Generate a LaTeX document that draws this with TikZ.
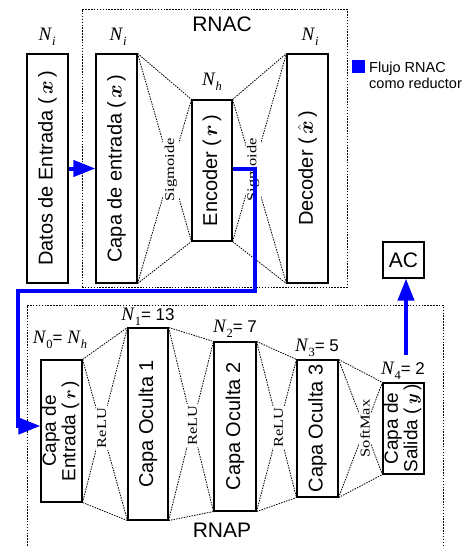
\documentclass[tikz,border=0pt]{standalone}
\usepackage{amsmath,bm}
\usepackage{fontspec}
\setmainfont{Liberation Sans}
\newfontfamily\lserif{Liberation Serif}
\newfontfamily\actfont{Liberation Serif}[FakeStretch=1.22]
\usetikzlibrary{arrows.meta}
\newcommand{\NN}[1]{{\lserif\fontsize{19}{19}\selectfont\itshape N\kern0.8pt\raisebox{-5pt}{\fontsize{12.5}{12.5}\selectfont #1}}}
\newcommand{\eqn}[1]{{\fontsize{17}{17}\selectfont #1}}
\newcommand{\bv}[1]{(\,$\bm{#1}$\,)}
\begin{document}
\begin{tikzpicture}[x=1pt,y=-1pt,
  box/.style={draw, line width=1.1pt, inner sep=0pt, minimum width=41pt, font=\fontsize{20}{22}\selectfont},
  conn/.style={line width=0.8pt, dash pattern=on 1.5pt off 1.1pt},
  frame/.style={draw, line width=0.8pt, dash pattern=on 1.5pt off 1.4pt, inner sep=0pt},
  act/.style={fill=white, inner sep=1.5pt, rotate=90, font=\actfont\fontsize{13.5}{15}\selectfont},
  flow/.style={draw=blue, line width=4pt, -{Triangle[length=22pt,width=16pt,fill=blue]}},
  nlab/.style={inner sep=0pt},
  title/.style={inner sep=0pt, font=\fontsize{21}{22}\selectfont}
]
\clip (0,0) rectangle (470,546);
% frames
\node[frame, minimum width=265pt, minimum height=278pt] (rnac) at (214.5,148) {};
\node[frame, minimum width=416pt, minimum height=260pt] (rnap) at (235,435) {};
\node[title] (rnacl) at (222,24) {RNAC};
\node[title] (rnapl) at (222,530) {RNAP};
% top boxes
\node[box, minimum height=229pt] (datos) at (47.5,168.5) {\rotatebox{90}{Datos de Entrada \bv{x}}};
\node[box, minimum height=229pt] (capa) at (116.5,168.5) {\rotatebox{90}{Capa de entrada \bv{x}}};
\node[box, minimum width=40pt, minimum height=141pt] (enc) at (212,170.5) {\rotatebox{90}{Encoder \bv{r}}};
\node[box, minimum height=229pt] (dec) at (307.5,168.5) {\rotatebox{90}{Decoder (\,$\hat{\bm{x}}$\,)}};
\node[box, minimum height=36pt, font=\fontsize{21}{22}\selectfont] (ac) at (403.5,260) {AC};
% bottom boxes
\node[box, minimum height=142pt, font=\fontsize{19}{19}\selectfont] (ce) at (61.5,431) {\rotatebox{90}{\begin{tabular}{@{}c@{}}Capa de\\Entrada \bv{r}\end{tabular}}};
\node[box, minimum width=40pt, minimum height=192pt] (o1) at (148,424) {\rotatebox{90}{Capa Oculta 1}};
\node[box, minimum width=42pt, minimum height=169pt] (o2) at (235,426.5) {\rotatebox{90}{Capa Oculta 2}};
\node[box, minimum height=137pt] (o3) at (317.5,428.5) {\rotatebox{90}{Capa Oculta 3}};
\node[box, minimum height=91pt, font=\fontsize{19}{19}\selectfont] (sal) at (403.5,428.5) {\rotatebox{90}{\begin{tabular}{@{}c@{}}Capa de\\Salida \bv{y}\end{tabular}}};
% connections and activation labels
\foreach \a/\b/\t in {capa/enc/Sigmoide, enc/dec/Sigmoide, ce/o1/ReLU, o1/o2/ReLU, o2/o3/ReLU, o3/sal/SoftMax} {
  \draw[conn] (\a.north east) -- (\b.north west) (\a.south east) -- (\b.south west)
              (\a.north east) -- (\b.south west) (\a.south east) -- (\b.north west);
  \node[act] (act-\a) at (intersection of \a.north east--\b.south west and \a.south east--\b.north west) {\t};
}
% size labels
\node[nlab] (ndatos) at (47,37) {\NN{i}};
\node[nlab] (ncapa) at (118,37) {\NN{i}};
\node[nlab] (ndec) at (310,37) {\NN{i}};
\node[nlab] (nenc) at (212,82) {\NN{h}};
\node[nlab] (n0) at (60,340) {\NN{\upshape 0}\eqn{= }\NN{h}};
\node[nlab] (n1) at (148,317) {\NN{\upshape 1}\eqn{= 13}};
\node[nlab] (n2) at (235,329) {\NN{\upshape 2}\eqn{= 7}};
\node[nlab] (n3) at (317,348) {\NN{\upshape 3}\eqn{= 5}};
\node[nlab] (n4) at (403,371) {\NN{\upshape 4}\eqn{= 2}};
% legend
\node[fill=blue, minimum size=13pt, inner sep=0pt] (legbox) at (358.5,66) {};
\node[anchor=west, align=left, inner sep=0pt, font=\fontsize{14.5}{16}\selectfont] (legtext) at (369,75) {Flujo RNAC\\como reductor};
% blue flow
\coordinate (b1) at (255,291);
\coordinate (b2) at (18,291);
\coordinate (acs) at (406,355);
\draw[flow] (datos.east) -- (capa.west);
\draw[flow] ([yshift=2pt]enc.east) -| (b1) -- (b2) |- ([yshift=5pt]ce.west);
\draw[flow] (acs) -- (acs |- ac.south);
\end{tikzpicture}
\end{document}
